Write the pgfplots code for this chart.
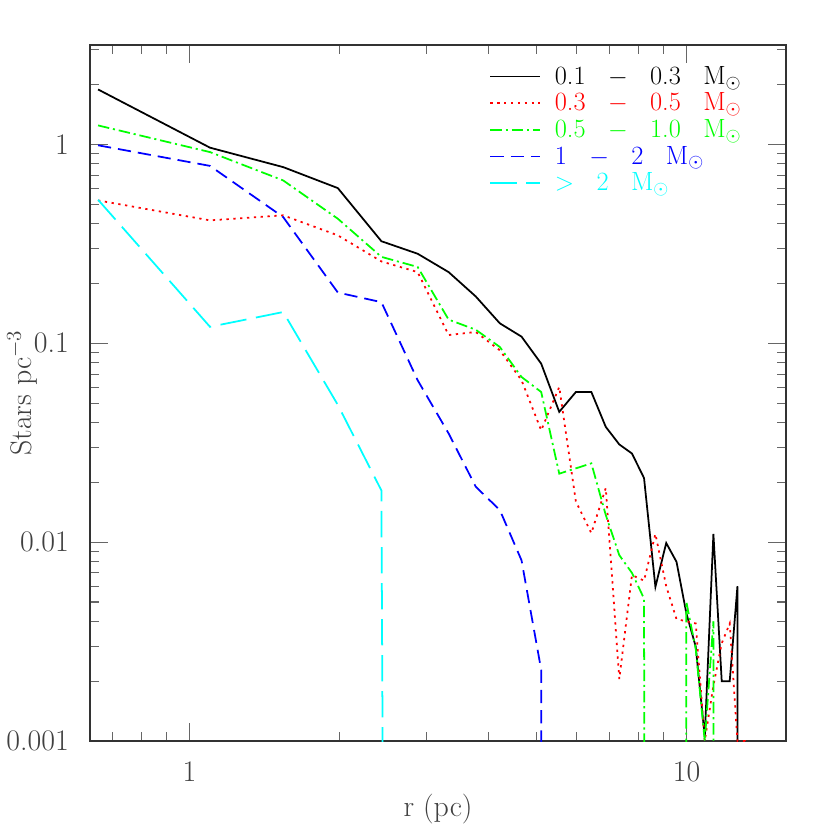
\documentclass[border=0pt]{standalone}
\usepackage{pgfplots}
\pgfplotsset{compat=1.18}

\definecolor{pcyan}{rgb}{0,1,1}
\definecolor{pgreen}{rgb}{0,1,0}
\newcommand{\sep}{\hspace{0.85em}}

\begin{document}
\begin{tikzpicture}
\begin{axis}[
    name=ax, at={(0,0)}, anchor=south west,
    scale only axis,
    width=13.92cm, height=13.92cm,
    xmode=log, ymode=log,
    xmin=0.631, xmax=15.85,
    ymin=0.001, ymax=3.162,
    xtick={1,10}, xticklabels={1,10},
    minor xtick={0.7,0.8,0.9,2,3,4,5,6,7,8,9},
    ytick={0.001,0.01,0.1,1}, yticklabels={0.001,0.01,0.1,1},
    minor ytick={0.002,0.003,0.004,0.005,0.006,0.007,0.008,0.009,
                 0.02,0.03,0.04,0.05,0.06,0.07,0.08,0.09,
                 0.2,0.3,0.4,0.5,0.6,0.7,0.8,0.9,2,3},
    tick align=inside,
    major tick length=0.36cm, minor tick length=0.19cm,
    axis line style={black!80, line width=0.6pt},
    every tick/.style={black!60, line width=0.6pt},
    tick label style={font=\fontsize{17}{20}\selectfont, text=black!75},
    xticklabel style={yshift=-0.3cm},
    yticklabel style={xshift=-0.3cm},
    label style={font=\fontsize{17}{20}\selectfont, text=black!75},
    xlabel={r (pc)},
    ylabel={Stars pc$^{-3}$},
    ylabel style={at={(axis description cs:-0.097,0.5)}, anchor=center},
    legend cell align=left,
    legend image code/.code={\draw[#1] (0cm,0cm) -- (1cm,0cm); \path (1.2cm,0cm);},
    legend style={draw=none, fill=none, at={(0.566,0.98)}, anchor=north west,
                  font=\fontsize{15}{15}\selectfont, row sep=-0.6pt},
]

% 0.1 - 0.3 Msun
\addplot[black, line width=1pt] coordinates {
    (0.655,1.89) (1.10,0.963) (1.544,0.769) (1.989,0.603) (2.433,0.326)
    (2.878,0.282) (3.322,0.228) (3.767,0.172) (4.211,0.126) (4.656,0.108)
    (5.10,0.079) (5.545,0.0452) (5.989,0.0569) (6.434,0.0569) (6.878,0.038)
    (7.323,0.031) (7.767,0.0279) (8.212,0.0210) (8.656,0.00596) (9.101,0.0099)
    (9.545,0.00796) (9.990,0.00439) (10.434,0.00298) (10.879,0.00105) (11.323,0.011)
    (11.768,0.002) (12.212,0.002) (12.657,0.006) (13.101,1e-40)
};
\addlegendentry{0.1\sep$-$\sep0.3\sep M$_\odot$}

% 0.3 - 0.5 Msun
\addplot[red, line width=1pt, dash pattern=on 1.3pt off 2.6pt] coordinates {
    (0.655,0.523) (1.10,0.415) (1.544,0.440) (1.989,0.349) (2.433,0.258)
    (2.878,0.228) (3.322,0.110) (3.767,0.114) (4.211,0.0922) (4.656,0.0652)
    (5.10,0.0365) (5.545,0.0603) (5.989,0.0160) (6.434,0.0111) (6.878,0.0187)
    (7.323,0.00205) (7.767,0.00683) (8.212,0.0064) (8.656,0.0110) (9.101,0.0060)
    (9.545,0.0041) (9.990,0.0040) (10.434,0.0039) (10.879,0.001) (11.323,0.0019)
    (11.768,0.0031) (12.212,0.0039) (12.657,0.001) (13.101,0.001) (13.546,1e-40)
};
\addlegendentry{\textcolor{red}{0.3\sep$-$\sep0.5\sep M$_\odot$}}

% 0.5 - 1.0 Msun
\addplot[pgreen, line width=1pt, dash pattern=on 6.5pt off 2.2pt on 1.2pt off 2.2pt] coordinates {
    (0.655,1.246) (1.10,0.915) (1.544,0.659) (1.989,0.423) (2.433,0.272)
    (2.878,0.242) (3.322,0.1315) (3.767,0.117) (4.211,0.0958) (4.656,0.0677)
    (5.10,0.0569) (5.545,0.0221) (5.989,0.0235) (6.434,0.0249) (6.878,0.0137)
    (7.323,0.0086) (7.767,0.0070) (8.212,0.0052) (8.656,1e-40) (9.101,1e-40)
    (9.545,1e-40) (9.990,0.0050) (10.434,0.0029) (10.879,0.001) (11.323,0.0040)
    (11.768,1e-40)
};
\addlegendentry{\textcolor{pgreen}{0.5\sep$-$\sep1.0\sep M$_\odot$}}

% 1 - 2 Msun
\addplot[blue, line width=1pt, dash pattern=on 7.5pt off 4pt] coordinates {
    (0.655,0.99) (1.10,0.78) (1.544,0.431) (1.989,0.180) (2.433,0.161)
    (2.878,0.0652) (3.322,0.0352) (3.767,0.019) (4.211,0.0145) (4.656,0.0081)
    (5.10,0.00228) (5.545,1e-40)
};
\addlegendentry{\textcolor{blue}{1\sep$-$\sep2\sep M$_\odot$}}

% > 2 Msun
\addplot[pcyan, line width=1pt, dash pattern=on 15pt off 5.5pt] coordinates {
    (0.655,0.527) (1.10,0.121) (1.544,0.1436) (1.989,0.049) (2.433,0.0182)
    (2.878,1e-40)
};
\addlegendentry{\textcolor{pcyan}{$>$\sep2\sep M$_\odot$}}

\end{axis}
\pgfresetboundingbox
\path[use as bounding box] ([xshift=-1.8cm,yshift=-1.78cm]ax.south west)
    rectangle ([xshift=0.88cm,yshift=0.9cm]ax.north east);
\end{tikzpicture}
\end{document}
